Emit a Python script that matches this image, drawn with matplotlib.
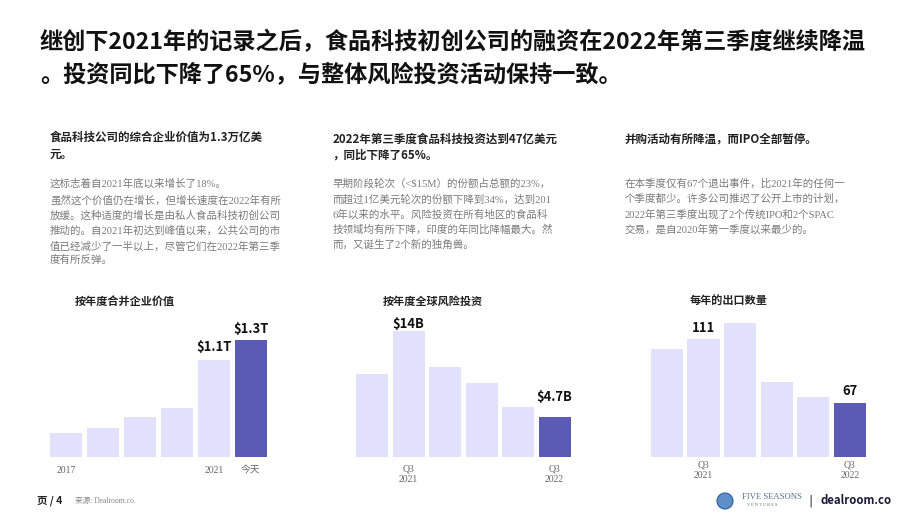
import matplotlib
matplotlib.use("Agg")
import matplotlib.pyplot as plt
from matplotlib.patches import Circle
from matplotlib.transforms import IdentityTransform

# ---- datos ----
ev_labels = ["2017", "", "", "", "2021", "今天"]
ev_values = [0.27, 0.32, 0.45, 0.55, 1.08, 1.3]          # billones USD

vc_labels = ["", "Q3\n2021", "", "", "", "Q3\n2022"]
vc_values = [9.4, 14.2, 10.2, 8.3, 5.6, 4.5]              # miles de millones USD

exit_labels = ["", "Q3\n2021", "", "", "", "Q3\n2022"]
exit_values = [104, 111, 122, 81, 71, 67]

LIGHT = "#E2E1FB"
DARK = "#5B5BB5"
GRAY = "#7a7a7a"
CJK = "Noto Sans CJK SC"
MIX = ["Liberation Serif", "Noto Sans CJK SC"]

W, H = 920, 518
fig = plt.figure(figsize=(W / 100, H / 100), dpi=100)
fig.patch.set_facecolor("white")


def t(x, y, s, **kw):
    """texto en pixeles (origen arriba a la izquierda)"""
    kw.setdefault("va", "center")
    fig.text(x / W, 1 - y / H, s, **kw)


# titular
t(40, 43, "继创下2021年的记录之后，食品科技初创公司的融资在2022年第三季度继续降温",
  family=CJK, weight="bold", size=16.7, color="#111")
t(40, 76, "。投资同比下降了65%，与整体风险投资活动保持一致。",
  family=CJK, weight="bold", size=16.7, color="#111")

# subtitulos
sub = dict(family=CJK, weight="bold", size=8.3, color="#222")
t(50, 137.5, "食品科技公司的综合企业价值为1.3万亿美", **sub)
t(50, 154.5, "元。", **sub)
t(332.5, 139, "2022年第三季度食品科技投资达到47亿美元", **sub)
t(332.5, 155, "，同比下降了65%。", **sub)
t(625, 139, "并购活动有所降温，而IPO全部暂停。", **sub)

# textos
body = dict(family=MIX, size=7.55, color=GRAY)
txt1 = ["这标志着自2021年底以来增长了18%。",
        "虽然这个价值仍在增长，但增长速度在2022年有所",
        "放缓。这种适度的增长是由私人食品科技初创公司",
        "推动的。自2021年初达到峰值以来，公共公司的市",
        "值已经减少了一半以上，尽管它们在2022年第三季",
        "度有所反弹。"]
for i, s in enumerate(txt1):
    t(50, [184, 200.5, 216, 231, 246, 260][i], s, **body)

txt2 = ["早期阶段轮次（<$15M）的份额占总额的23%，",
        "而超过1亿美元轮次的份额下降到34%，达到201",
        "6年以来的水平。风险投资在所有地区的食品科",
        "技领域均有所下降，印度的年同比降幅最大。然",
        "而，又诞生了2个新的独角兽。"]
for i, s in enumerate(txt2):
    t(332.5, 184 + i * 15.2, s, **body)

txt3 = ["在本季度仅有67个退出事件，比2021年的任何一",
        "个季度都少。许多公司推迟了公开上市的计划，",
        "2022年第三季度出现了2个传统IPO和2个SPAC",
        "交易，是自2020年第一季度以来最少的。"]
for i, s in enumerate(txt3):
    t(625, 183.5 + i * 15.4, s, **body)


def chart(left, right, base, height, ylim, values, labels, title, tx, ty, pad):
    ax = fig.add_axes([left / W, (H - base) / H, (right - left) / W, height / H])
    colors = [LIGHT] * (len(values) - 1) + [DARK]
    ax.bar(range(len(values)), values, width=0.88, color=colors)
    ax.set_xlim(-0.44, len(values) - 0.56)
    ax.set_ylim(*ylim)
    for sp in ax.spines.values():
        sp.set_visible(False)
    ax.set_yticks([])
    idx = [i for i, l in enumerate(labels) if l]
    ax.set_xticks(idx, [labels[i] for i in idx])
    ax.tick_params(axis="x", length=0, pad=pad, labelsize=7, labelcolor="#666")
    for lab in ax.get_xticklabels():
        lab.set_family(MIX)
    ax.patch.set_alpha(0)
    t(tx, ty, title, family=CJK, weight="bold", size=8, color="#222", ha="center")
    return ax


def lab(ax, i, v, s, off):
    ax.annotate(s, (i, v), xytext=(0, off), textcoords="offset points",
                ha="center", va="bottom", family=CJK, weight="bold",
                size=9.4, color="#111", annotation_clip=False)


ax1 = chart(50, 267, 457.3, 117.3, (0, 1.3), ev_values, ev_labels,
            "按年度合并企业价值", 125, 302, 6.5)
lab(ax1, 4, ev_values[4], "$1.1T", 4.5)
lab(ax1, 5, ev_values[5], "$1.3T", 3)

ax2 = chart(356, 570.7, 457.3, 126.4, (0, 14.2), vc_values, vc_labels,
            "按年度全球风险投资", 433, 301, 5.5)
lab(ax2, 1, vc_values[1], "$14B", 0)
lab(ax2, 5, vc_values[5], "$4.7B", 9.5)

ax3 = chart(650.7, 866, 456.7, 134, (30, 122), exit_values, exit_labels,
            "每年的出口数量", 729, 301, 2.5)
lab(ax3, 1, exit_values[1], "111", 3)
lab(ax3, 5, exit_values[5], "67", 3.5)

# pie de pagina
t(37, 501, "页 / 4", family=CJK, weight="bold", size=7.5, color="#222")
t(75, 501.5, "来源: Dealroom.co.", family=MIX, size=5.5, color="#888")

fig.add_artist(Circle((725, H - 501), 8, transform=IdentityTransform(),
                      facecolor="#5f8fc9", edgecolor="#2f5f99", lw=0.8))
t(742, 497, "FIVE SEASONS", family="Liberation Serif", size=6.2, color="#5a6f8a")
t(747, 505, "V E N T U R E S", family="Liberation Serif", size=3.2, color="#5a6f8a")
t(808, 501, "|", family="DejaVu Sans", size=9, color="#333")
t(821, 500, "dealroom.co", family=CJK, weight="bold", size=8.2, color="#1a1a3a")

fig.savefig("out.png", dpi=100)
plt.close(fig)
